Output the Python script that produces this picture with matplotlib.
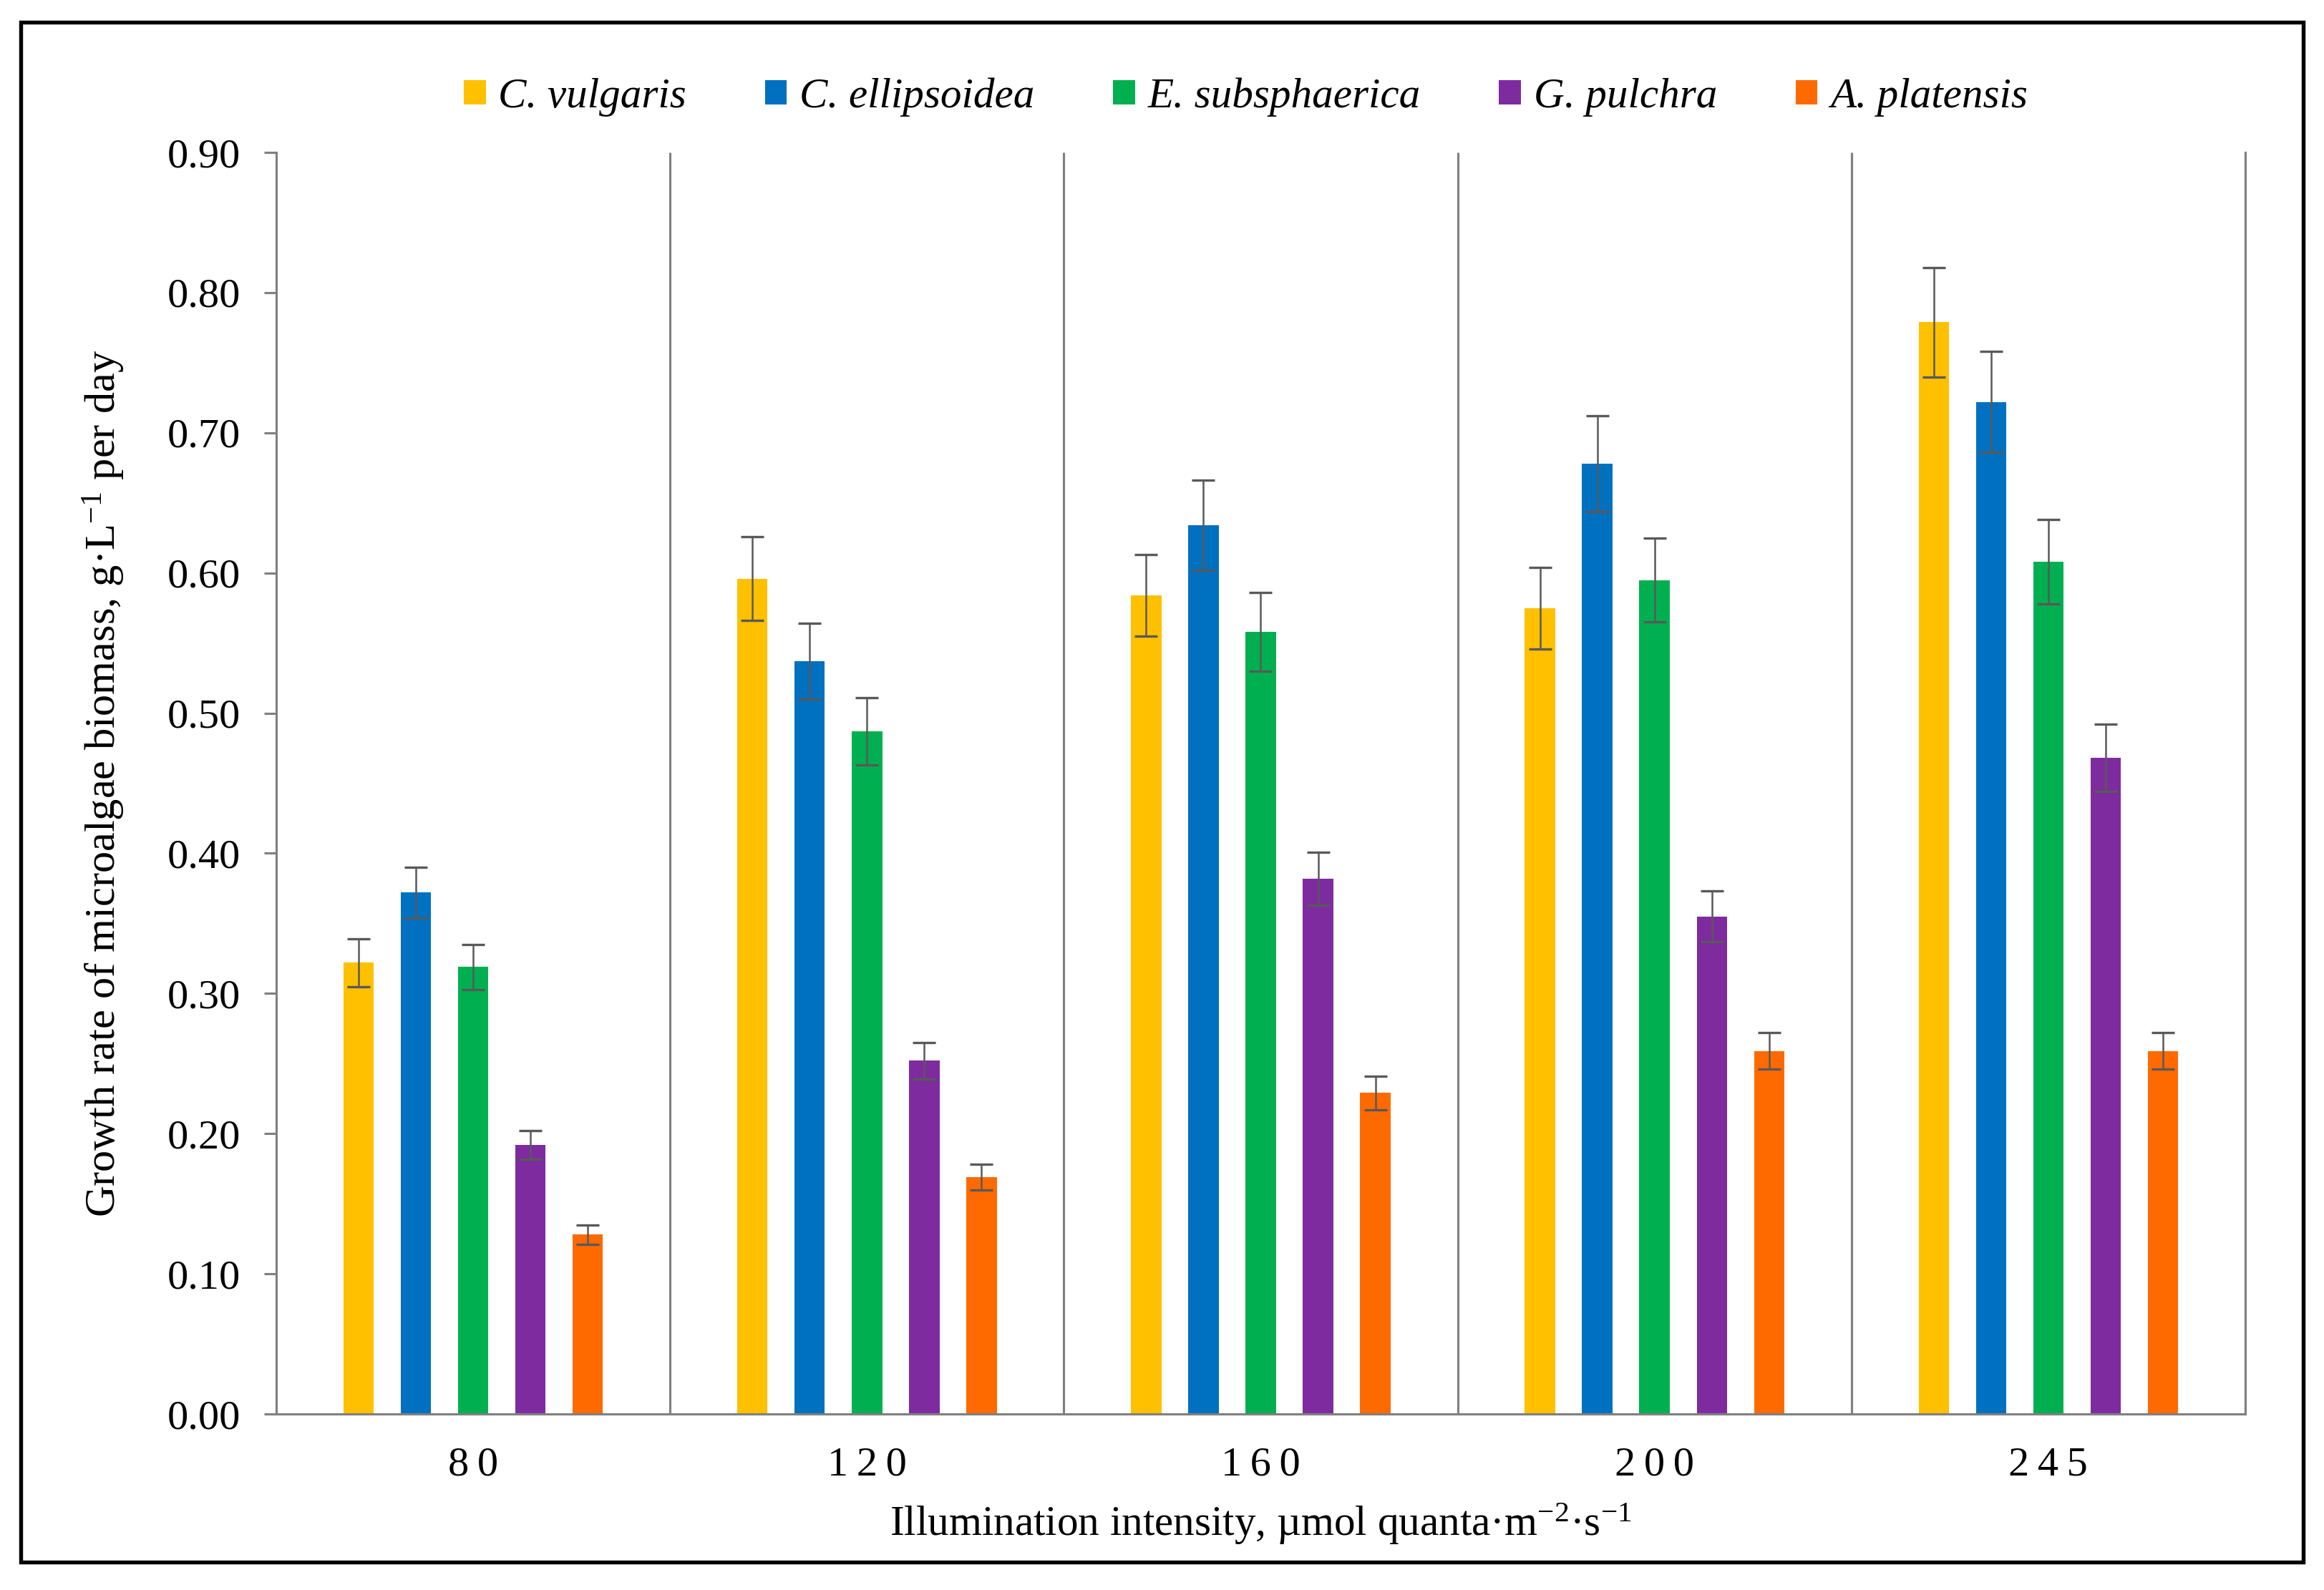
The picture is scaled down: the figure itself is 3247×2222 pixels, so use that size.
import matplotlib
matplotlib.use("Agg")
import matplotlib.pyplot as plt
import numpy as np
from matplotlib.patches import Patch, Rectangle

plt.rcParams['font.family'] = ['Liberation Serif', 'DejaVu Serif']
plt.rcParams['mathtext.fontset'] = 'custom'
plt.rcParams['mathtext.rm'] = 'Liberation Serif'
plt.rcParams['mathtext.it'] = 'Liberation Serif:italic'

# ---- data ----
intensities = ['80', '120', '160', '200', '245']
species = ['C. vulgaris', 'C. ellipsoidea', 'E. subsphaerica', 'G. pulchra', 'A. platensis']
colors = ['#FFC000', '#0070C0', '#00B050', '#7E2BA0', '#FF6A00']

c_vulgaris      = [0.322, 0.596, 0.584, 0.575, 0.779]
c_ellipsoidea   = [0.372, 0.537, 0.634, 0.678, 0.722]
e_subsphaerica  = [0.319, 0.487, 0.558, 0.595, 0.608]
g_pulchra       = [0.192, 0.252, 0.382, 0.355, 0.468]
a_platensis     = [0.128, 0.169, 0.229, 0.259, 0.259]

c_vulgaris_err     = [0.017, 0.030, 0.029, 0.029, 0.039]
c_ellipsoidea_err  = [0.018, 0.027, 0.032, 0.034, 0.036]
e_subsphaerica_err = [0.016, 0.024, 0.028, 0.030, 0.030]
g_pulchra_err      = [0.010, 0.013, 0.019, 0.018, 0.024]
a_platensis_err    = [0.007, 0.009, 0.012, 0.013, 0.013]

values = [c_vulgaris, c_ellipsoidea, e_subsphaerica, g_pulchra, a_platensis]
errors = [c_vulgaris_err, c_ellipsoidea_err, e_subsphaerica_err, g_pulchra_err, a_platensis_err]
yticks = [0.00, 0.10, 0.20, 0.30, 0.40, 0.50, 0.60, 0.70, 0.80, 0.90]

# ---- figure ----
W, H = 3247, 2222
dpi = 300
fig = plt.figure(figsize=(W / dpi, H / dpi), dpi=dpi)
ax = fig.add_axes([0.1189, 0.1107, 0.9661 - 0.1189, 0.9041 - 0.1107])

x = np.arange(len(intensities))
pitch = 0.1455
width = 0.077
gray = '#808080'
for i, (vals, errs, col) in enumerate(zip(values, errors, colors)):
    ax.bar(x + (i - 2) * pitch, vals, width=width, color=col, zorder=2,
           yerr=errs, error_kw=dict(ecolor='#595959', elinewidth=0.6,
                                    capsize=3.8, capthick=0.8, zorder=3))

ax.set_xlim(-0.5, len(intensities) - 0.5)
ax.set_ylim(0, 0.9)
ax.set_yticks(yticks)
ax.set_yticklabels([f'{v:.2f}' for v in yticks])
ax.set_xticks(x)
ax.set_xticklabels(['\u2009'.join(s) for s in intensities])

# group separators
ax.vlines(np.arange(0.5, len(intensities) - 0.5 + 1e-9, 1.0), 0, 0.9,
          colors=gray, linewidth=0.75, zorder=1)

ax.spines['top'].set_visible(False)
for s in ['left', 'bottom', 'right']:
    ax.spines[s].set_color(gray)
    ax.spines[s].set_linewidth(0.75)
ax.tick_params(axis='y', direction='out', length=4.1, width=0.75, color=gray,
               pad=8, labelsize=14)
ax.tick_params(axis='x', length=0, pad=11, labelsize=14)

ax.set_xlabel('Illumination intensity, µmol quanta·m$^{-2}$·s$^{-1}$', fontsize=14.2)
ax.xaxis.set_label_coords(0.5, -0.087)
ax.xaxis.label.set_va('center')
ax.set_ylabel('Growth rate of microalgae biomass, g·L$^{-1}$ per day', fontsize=14.5)
ax.yaxis.set_label_coords(-0.0876, 0.5)
ax.yaxis.label.set_va('center')

handles = [Patch(facecolor=c, edgecolor='none') for c in colors]
fig.legend(handles, species, loc='center', bbox_to_anchor=(0.536, 0.939),
           ncol=5, frameon=False, prop=dict(style='italic', size=14.2),
           handlelength=0.52, handleheight=0.52, handletextpad=0.3,
           columnspacing=1.85)

# outer frame
fig.patches.append(Rectangle((0.0089, 0.0176), 0.991 - 0.0089, 0.986 - 0.0176,
                             transform=fig.transFigure, fill=False,
                             edgecolor='black', linewidth=1.3))

fig.savefig('out.png', dpi=dpi, facecolor='white')
